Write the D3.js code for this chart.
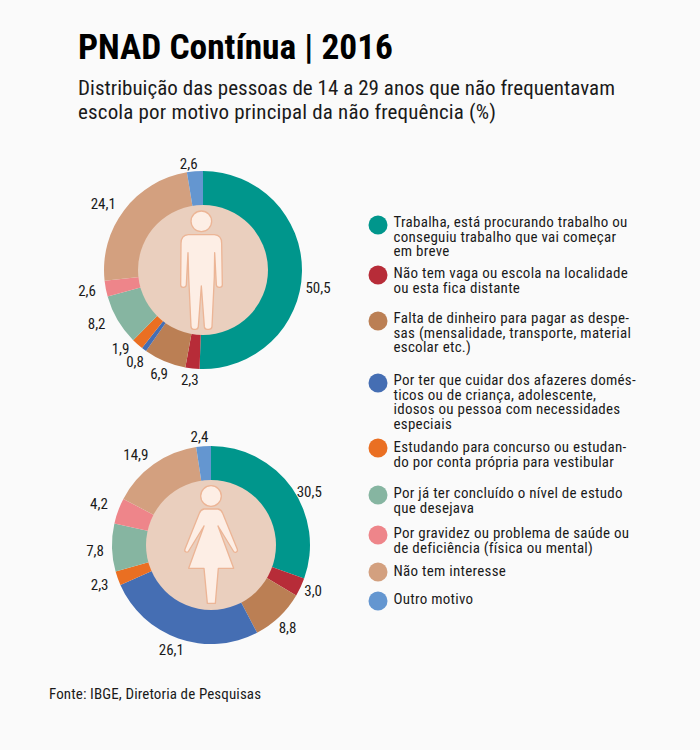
<!DOCTYPE html>
<html><head><meta charset="utf-8">
<script src="https://cdn.jsdelivr.net/npm/d3@7"></script>
<style>
html,body{margin:0;padding:0;background:#fafafa}
svg{display:block}
text{font-family:"Liberation Sans Narrow","Roboto Condensed",Roboto,sans-serif;fill:#1a1a1a}
</style></head><body><div id="c"></div>
<script>
const categories=[
 "Trabalha","Não tem vaga","Falta de dinheiro","Afazeres","Estudando","Já concluiu","Gravidez ou saúde","Não tem interesse","Outro motivo"];
const colors=["#00968c","#b72c38","#bb7f54","#456eb3","#ea6f22","#86b5a1","#ee858a","#d3a07f","#6496d0"];
const homens=[50.5,2.3,6.9,0.8,1.9,8.2,2.6,24.1,2.6];
const mulheres=[30.5,3.0,8.8,26.1,2.3,7.8,4.2,14.9,2.4];
const legendLines=[
 ["Trabalha, está procurando trabalho ou","conseguiu trabalho que vai começar","em breve"],
 ["Não tem vaga ou escola na localidade","ou esta fica distante"],
 ["Falta de dinheiro para pagar as despe-","sas (mensalidade, transporte, material","escolar etc.)"],
 ["Por ter que cuidar dos afazeres domés-","ticos ou de criança, adolescente,","idosos ou pessoa com necessidades","especiais"],
 ["Estudando para concurso ou estudan-","do por conta própria para vestibular"],
 ["Por já ter concluído o nível de estudo","que desejava"],
 ["Por gravidez ou problema de saúde ou","de deficiência (física ou mental)"],
 ["Não tem interesse"],
 ["Outro motivo"]];
const legendDotY=[225,275,321,383,448,495,535,572,601];
const legendTextY=[227,278,323,385,452,498,538,576,604];
const fmt=v=>v.toFixed(1).replace(".",",");

// label nudges relative to the radial anchor
const nudgeTop=[[1,16],[-1,-3],[0,-1],[0,0],[-7,-6],[-8,-4],[-4,-1],[-9,3],[-5,8]];
const nudgeBot=[[5,13],[-1,-3],[-2,0],[-2,-3],[-4,2],[-2,3],[-5,-2],[-9,3],[-3,6]];

const svg=d3.select("#c").append("svg").attr("width",700).attr("height",750);
svg.append("rect").attr("width",700).attr("height",750).attr("fill","#fafafa");

svg.append("text").attr("x",78).attr("y",59).attr("font-size",35.4).attr("font-weight",700).style("fill","#000").text("PNAD Contínua | 2016");
svg.append("text").attr("x",78).attr("y",95).attr("font-size",21).attr("textLength",537).attr("lengthAdjust","spacing").text("Distribuição das pessoas de 14 a 29 anos que não frequentavam");
svg.append("text").attr("x",78).attr("y",119).attr("font-size",21).attr("textLength",418).attr("lengthAdjust","spacing").text("escola por motivo principal da não frequência (%)");

const manPath="M325 254H403Q425 256 425 280L427 405Q427 412 418 412Q410 412 409 405L404 308L403 380L396 530Q395 538 387 538H381Q374 538 373 530L364 408L355 530Q354 538 347 538H341Q334 538 333 530L326 380L324 308L319 405Q318 412 310 412Q302 412 302 405L303 280Q303 256 325 254Z";
const womanPath="M372 252H414Q424 254 428 265L472 373Q474 380 467 382Q462 383 460 378L414 303L461 430H415L406 535H382L372 430H326L372 303L326 378Q323 383 318 381Q312 378 315 372L358 265Q362 254 372 252Z";

function donut(values,cx,cy,nudge,figure,head,ox,oy){
  const R=99,r=65;
  const g=svg.append("g").attr("transform",`translate(${cx},${cy})`);
  const pie=d3.pie().sort(null)(values);
  const arc=d3.arc().innerRadius(r-1).outerRadius(R);
  const labelArc=d3.arc().innerRadius(R+15).outerRadius(R+15);
  g.selectAll("path.s").data(pie).join("path").attr("class","s").attr("d",arc).attr("fill",(d,i)=>colors[i]);
  g.append("circle").attr("r",r).attr("fill","#eacfbe");
  const f=g.append("g").attr("transform",`scale(${1/3}) translate(${-ox},${-oy})`);
  f.append("path").attr("d",figure).attr("fill","#fdeee5").attr("stroke","#ecb596").attr("stroke-width",4).attr("stroke-linejoin","round");
  f.append("circle").attr("cx",head[0]).attr("cy",head[1]).attr("r",31).attr("fill","#fdeee5").attr("stroke","#ecb596").attr("stroke-width",4);
  g.selectAll("text").data(pie).join("text").attr("font-size",15).attr("text-anchor","middle").attr("dominant-baseline","central")
   .attr("x",(d,i)=>labelArc.centroid(d)[0]+nudge[i][0])
   .attr("y",(d,i)=>labelArc.centroid(d)[1]+nudge[i][1])
   .text(d=>fmt(d.value));
}
donut(homens,203,270,nudgeTop,manPath,[364,214],369,360);
donut(mulheres,211,545,nudgeBot,womanPath,[393,213],393,360);

const lg=svg.append("g");
legendLines.forEach((lines,i)=>{
  lg.append("circle").attr("cx",378).attr("cy",legendDotY[i]).attr("r",9.5).attr("fill",colors[i]);
  const t=lg.append("text").attr("x",393.5).attr("y",legendTextY[i]).attr("font-size",15).style("letter-spacing","0.27px");
  lines.forEach((l,j)=>t.append("tspan").attr("x",393.5).attr("dy",j?14.5:0).text(l));
});
svg.append("text").attr("x",49).attr("y",699).attr("font-size",15).style("letter-spacing","0.12px").text("Fonte: IBGE, Diretoria de Pesquisas");
</script></body></html>
